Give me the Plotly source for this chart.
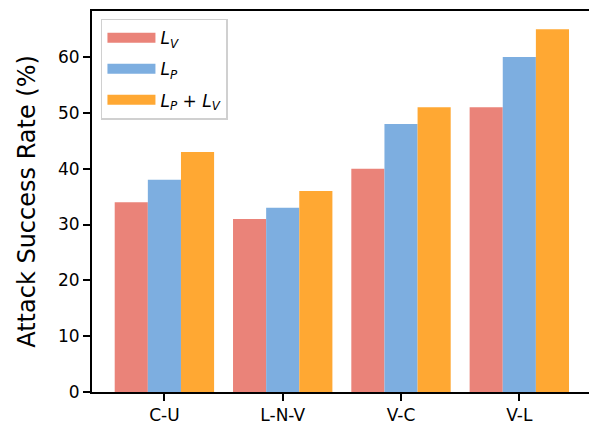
import plotly.graph_objects as go

categories = ["C-U", "L-N-V", "V-C", "V-L"]
lv = [34, 31, 40, 51]
lp = [38, 33, 48, 60]
lplv = [43, 36, 51, 65]
names = ["<i>L</i><sub><i>V</i></sub>", "<i>L</i><sub><i>P</i></sub>",
         "<i>L</i><sub><i>P</i></sub> + <i>L</i><sub><i>V</i></sub>"]
colors = ["#EA8379", "#7DAEE0", "#FFA833"]

fig = go.Figure()
xs = list(range(len(categories)))
for n, vals, c in zip(names, [lv, lp, lplv], colors):
    fig.add_trace(go.Bar(x=xs, y=vals, name=n, showlegend=False,
                         marker=dict(color=c, line=dict(width=0))))
# legend swatches as wide rectangles
for i, (n, c) in enumerate(zip(names, colors)):
    fig.add_trace(go.Scatter(x=[None], y=[None], mode="lines", name=n,
                             legendgroup=f"g{i}",
                             line=dict(color=c, width=14)))

fig.update_layout(
    width=589, height=426,
    margin=dict(l=92, r=0, t=11, b=34),
    plot_bgcolor="white", paper_bgcolor="white",
    barmode="group", bargap=0.16, bargroupgap=0,
    font=dict(family="DejaVu Sans", size=17, color="black"),
    legend=dict(x=0.018, y=0.98, xanchor="left", yanchor="top",
                bgcolor="white", bordercolor="#d0d0d0", borderwidth=1.5,
                font=dict(size=17), tracegroupgap=6, itemwidth=48),
    showlegend=True,
)
fig.update_xaxes(
    range=[-0.612, 3.589], tickmode="array", tickvals=xs, ticktext=categories,
    showline=True, linecolor="black", linewidth=2, mirror=True,
    ticks="outside", ticklen=7, tickwidth=1.5, tickcolor="black",
    showgrid=False, zeroline=False, tickfont=dict(size=17),
)
fig.update_yaxes(
    range=[0, 68.25], tickvals=[0, 10, 20, 30, 40, 50, 60],
    showline=True, linecolor="black", linewidth=2,
    ticks="outside", ticklen=7, tickwidth=1.5, tickcolor="black",
    showgrid=False, zeroline=False, tickfont=dict(size=17),
    title=dict(text="Attack Success Rate (%)", font=dict(size=24), standoff=16),
)
fig.write_html("out.html", config={"displayModeBar": False},
               post_script="document.body.style.margin='0';document.body.style.overflow='hidden';")
